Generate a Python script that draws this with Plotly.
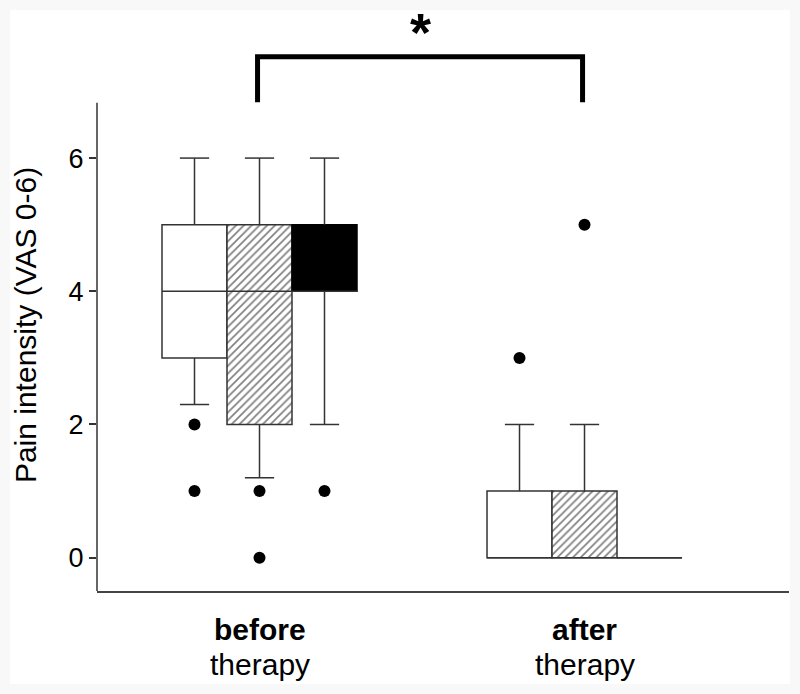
import plotly.graph_objects as go

# ---- data ----
positions = [1, 2, 3, 6, 7, 8]
groups = ["before", "before", "before", "after", "after", "after"]
styles = ["white", "hatched", "black", "white", "hatched", "black"]
q1 = [3, 2, 4, 0, 0, 0]
median = [4, 4, 4, 0, 0, 0]
q3 = [5, 5, 5, 1, 1, 0]
lower_whisker = [2.3, 1.2, 2, 0, 0, 0]
upper_whisker = [6, 6, 6, 2, 2, 0]
outlier_x = [1, 1, 2, 2, 3, 6, 7]
outlier_y = [2, 1, 1, 0, 1, 3, 5]

category_pos = [2, 7]
category_bold = ["before", "after"]
category_sub = ["therapy", "therapy"]

y_ticks = [0, 2, 4, 6]
y_title = "Pain intensity (VAS 0-6)"

bracket_x = [1.97, 1.97, 6.97, 6.97]
bracket_y = [6.84, 7.52, 7.52, 6.84]
star_text = "*"

FONT = "Liberation Sans, Arial, sans-serif"
EDGE = "#333333"
BOX_W = 1.0
CAP_W = 0.45

fig = go.Figure()

# boxes as bars from q1 to q3
for style in ["white", "hatched", "black"]:
    idx = [i for i, s in enumerate(styles) if s == style]
    xs = [positions[i] for i in idx]
    bases = [q1[i] for i in idx]
    heights = [q3[i] - q1[i] for i in idx]
    if style == "white":
        marker = dict(color="white", line=dict(color=EDGE, width=1.5))
    elif style == "hatched":
        marker = dict(color="white", line=dict(color=EDGE, width=1.5),
                      pattern=dict(shape="/", fgcolor="black", bgcolor="white",
                                   size=5.5, solidity=0.3))
    else:
        marker = dict(color="black", line=dict(color="black", width=1.5))
    fig.add_trace(go.Bar(x=xs, y=heights, base=bases, width=BOX_W, marker=marker,
                         showlegend=False, hoverinfo="skip"))

# whiskers and caps
wx, wy = [], []
for p, a, b, lo, hi in zip(positions, q1, q3, lower_whisker, upper_whisker):
    if hi > b:
        wx += [p, p, None, p - CAP_W / 2, p + CAP_W / 2, None]
        wy += [b, hi, None, hi, hi, None]
    if lo < a:
        wx += [p, p, None, p - CAP_W / 2, p + CAP_W / 2, None]
        wy += [a, lo, None, lo, lo, None]
fig.add_trace(go.Scatter(x=wx, y=wy, mode="lines", line=dict(color=EDGE, width=1.5),
                         showlegend=False, hoverinfo="skip"))

# median lines
mx, my = [], []
for p, m in zip(positions, median):
    mx += [p - BOX_W / 2, p + BOX_W / 2, None]
    my += [m, m, None]
fig.add_trace(go.Scatter(x=mx, y=my, mode="lines", line=dict(color=EDGE, width=1.5),
                         showlegend=False, hoverinfo="skip"))

# outliers
fig.add_trace(go.Scatter(x=outlier_x, y=outlier_y, mode="markers",
                         marker=dict(color="black", size=12),
                         showlegend=False, hoverinfo="skip"))

# significance bracket
fig.add_trace(go.Scatter(x=bracket_x, y=bracket_y, mode="lines",
                         line=dict(color="black", width=5), showlegend=False,
                         hoverinfo="skip"))

# y axis line drawn only over the data region
fig.add_shape(type="line", xref="paper", yref="y", x0=0, x1=0, y0=-0.5, y1=6.83,
              line=dict(color=EDGE, width=1.5))

# white page area within a light border
fig.add_shape(type="rect", xref="paper", yref="paper", x0=-0.1257, x1=1.0014,
              y0=-0.1658, y1=1.0357, fillcolor="white", line=dict(width=0),
              layer="below")

# category labels
for xp, b, s in zip(category_pos, category_bold, category_sub):
    fig.add_annotation(x=xp, y=-0.0695, xref="x", yref="paper", text=f"<b>{b}</b>",
                       showarrow=False, font=dict(family=FONT, size=30, color="black"),
                       yanchor="middle")
    fig.add_annotation(x=xp, y=-0.1305, xref="x", yref="paper", text=s,
                       showarrow=False, font=dict(family=FONT, size=30, color="black"),
                       yanchor="middle")

# y axis title
fig.add_annotation(x=-0.104, y=0.474, xref="paper", yref="paper", text=y_title,
                   textangle=-90, showarrow=False, xanchor="center", yanchor="middle",
                   font=dict(family=FONT, size=30, color="black"))

# star
fig.add_annotation(x=4.47, y=0.9964, xref="x", yref="paper", text=f"<b>{star_text}</b>",
                   showarrow=False, font=dict(family=FONT, size=54, color="black"),
                   yanchor="middle")

fig.update_layout(
    width=800, height=694,
    margin=dict(l=97, r=11, t=30, b=103),
    paper_bgcolor="#f8f8f8",
    plot_bgcolor="white",
    barmode="overlay",
    font=dict(family=FONT, color="black"),
    xaxis=dict(range=[-0.5, 10.146], showgrid=False, zeroline=False, showticklabels=False,
               showline=True, linecolor="#444444", linewidth=2, ticks=""),
    yaxis=dict(range=[-0.5, 7.923], showgrid=False, zeroline=False, showline=False,
               tickvals=y_ticks, ticks="outside", ticklen=7, tickwidth=1.5,
               tickcolor=EDGE, tickfont=dict(family=FONT, size=27, color="black")),
)

fig.write_html("out.html", config={"displayModeBar": False},
               post_script="document.body.style.margin='0px';")
